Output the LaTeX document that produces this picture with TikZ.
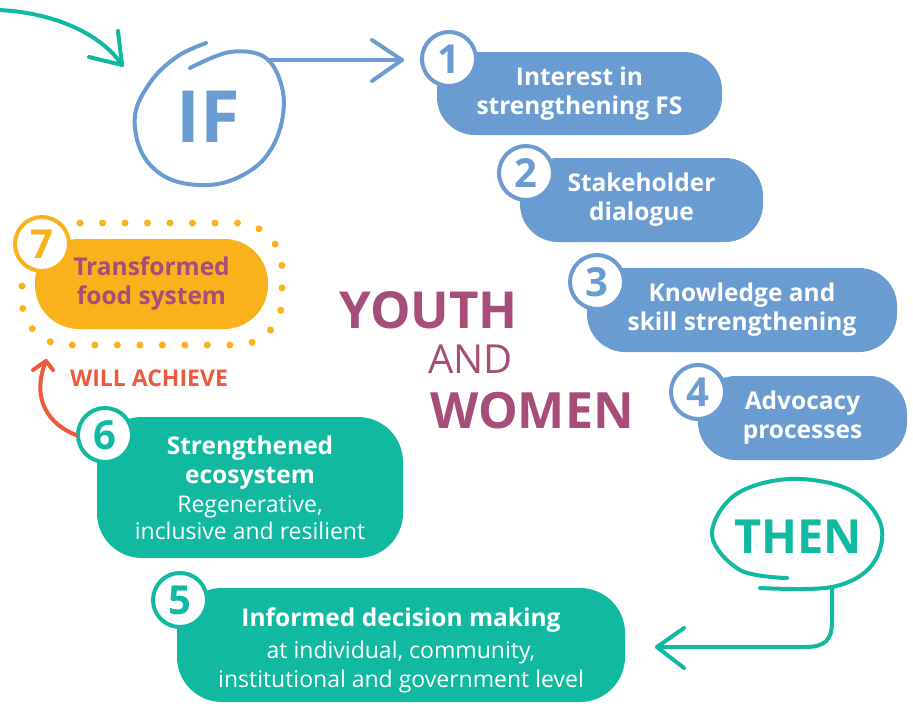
\documentclass[tikz,border=0pt]{standalone}
\usepackage{fontspec}
\setmainfont{Open Sans}
\definecolor{cblue}{HTML}{6A9CD2}
\definecolor{cteal}{HTML}{10B9A0}
\definecolor{corange}{HTML}{F9B21B}
\definecolor{cpurple}{HTML}{A64D79}
\definecolor{cred}{HTML}{EC5B3D}
\newcommand{\subtxt}{\normalfont\fontsize{23}{27}\selectfont}
\tikzset{
  box/.style={rectangle, rounded corners=38pt, fill=#1, text=white, align=center, inner sep=0pt, font=\bfseries\fontsize{24.5}{29}\selectfont},
  num/.style={circle, draw=#1, fill=white, line width=4pt, minimum size=54pt, inner sep=0pt, text=#1, font=\bfseries\fontsize{40}{40}\selectfont},
  hand/.style={line width=4pt, line cap=round, line join=round},
}
\begin{document}
\begin{tikzpicture}[x=1pt,y=-1pt]
\useasboundingbox[fill=white] (0,0) rectangle (913,704);

% boxes
\node[box=cblue, minimum width=285pt, minimum height=83pt] (b1) at (579.5,93.5) {Interest in\\strengthening FS};
\node[box=cblue, minimum width=243pt, minimum height=84pt] (b2) at (641.5,200) {Stakeholder\\dialogue};
\node[box=cblue, minimum width=310pt, minimum height=84pt] (b3) at (742,310) {Knowledge and\\skill strengthening};
\node[box=cblue, minimum width=209pt, minimum height=84pt] (b4) at (802.5,418) {Advocacy\\processes};
\node[box=cteal, rounded corners=45pt, minimum width=306pt, minimum height=141pt] (b6) at (250,487.5) {Strengthened\\ecosystem\\[0pt]\subtxt Regenerative,\\[-2pt]\subtxt inclusive and resilient};
\node[box=cteal, rounded corners=45pt, minimum width=448pt, minimum height=114pt] (b5) at (401,645) {\rule{0pt}{30pt}Informed decision making\\[3pt]\subtxt at individual, community,\\[0pt]\subtxt institutional and government level};
\node[box=corange, rounded corners=44pt, minimum width=233pt, minimum height=90pt, text=cpurple] (b7) at (151.5,284) {Transformed\\food system};

% dotted outline around 7
\draw[corange, line width=7pt, line cap=round, dash pattern=on 0pt off 22.5pt, rounded corners=45pt]
  (80,223) -- (282,223) -- (282,345) -- (22,345) -- (22,270);

% number circles
\node[num=cblue] (n1) at (449,59) {1};
\node[num=cblue] (n2) at (526,173) {2};
\node[num=cblue] (n3) at (597,282) {3};
\node[num=cblue] (n4) at (698,392) {4};
\node[num=cteal] (n6) at (105,435) {6};
\node[num=cteal] (n5) at (180,600) {5};
\node[num=corange] (n7) at (42,244) {7};

% IF
\node[text=cblue, font=\bfseries\fontsize{72}{72}\selectfont] (if) at (208,117) {IF};
\draw[cblue, hand] plot[smooth, tension=0.6] coordinates {(190,68) (230,52) (266,58) (283,92) (279,132) (258,165) (218,184) (172,180) (143,155) (135,115) (152,80) (178,56) (206,43)};
\coordinate (ifout) at (268,60);
\coordinate (iftip) at (402,60);
\draw[cblue, hand] (ifout) -- (iftip);
\draw[cblue, hand] (372,40) -- (iftip) -- (372,81);

% top-left teal arrow
\coordinate (tlstart) at (-2,10);
\coordinate (tltip) at (122,65);
\draw[cteal, hand] (tlstart) .. controls (50,12) and (100,32) .. (tltip);
\draw[cteal, hand] (118,31) -- (tltip) -- (89,57);

% THEN
\node[text=cteal, font=\bfseries\fontsize{47}{47}\selectfont] (then) at (798,537) {THEN};
\draw[cteal, hand] plot[smooth, tension=0.6] coordinates {(787,578) (740,570) (712,535) (735,495) (790,479) (850,490) (881,525) (872,565) (832,587) (760,588)};
\coordinate (thenout) at (832,588);
\coordinate (thentip) at (657,647);
\draw[cteal, hand] (thenout) -- (832,622) .. controls (832,640) and (825,647) .. (805,647) -- (thentip);
\draw[cteal, hand] (684,628) -- (thentip) -- (684,668);

% WILL ACHIEVE
\node[text=cred, font=\bfseries\fontsize{23}{23}\selectfont] (will) at (149,378) {WILL ACHIEVE};
\coordinate (rtip) at (46,361);
\draw[cred, hand] (n6.west) .. controls (50,425) and (30,400) .. (rtip);
\draw[cred, hand] (33,370) -- (rtip) -- (53,370);

% YOUTH AND WOMEN
\node[text=cpurple, font=\bfseries\fontsize{51}{51}\selectfont, anchor=base west, inner sep=0pt] (youth) at (339,328) {YOUTH};
\node[text=cpurple, font=\fontsize{40}{40}\selectfont, anchor=base west, inner sep=0pt] (and) at (428,373) {AND};
\node[text=cpurple, font=\bfseries\fontsize{50}{50}\selectfont, anchor=base west, inner sep=0pt] (women) at (430,428) {WOMEN};
\end{tikzpicture}
\end{document}
